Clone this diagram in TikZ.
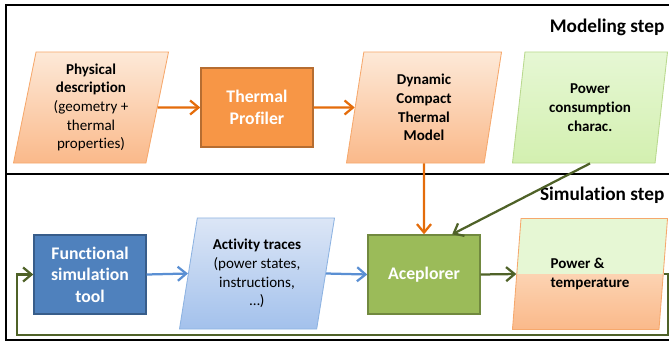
\documentclass[tikz,border=0pt]{standalone}
\usepackage{fontspec}
\setmainfont{Carlito}[Ligatures=NoCommon]
\usetikzlibrary{arrows.meta, shapes.geometric}

\definecolor{orlight}{HTML}{FDE9D8}
\definecolor{orhalf}{HTML}{FCD3B2}
\definecolor{ormid}{HTML}{FAB98A}
\definecolor{orline}{HTML}{F6A86C}
\definecolor{orbox}{HTML}{F79646}
\definecolor{orboxline}{HTML}{B66D31}
\definecolor{orarrow}{HTML}{E46C0A}
\definecolor{blbox}{HTML}{4F81BD}
\definecolor{blboxline}{HTML}{385D8A}
\definecolor{bllight}{HTML}{DCE6F6}
\definecolor{blmid}{HTML}{A3C1EC}
\definecolor{blline}{HTML}{8DB3E2}
\definecolor{blarrow}{HTML}{5A8FD3}
\definecolor{grbox}{HTML}{9BBB59}
\definecolor{grboxline}{HTML}{71893F}
\definecolor{grlight}{HTML}{E6F7D4}
\definecolor{grmid}{HTML}{D3F0B0}
\definecolor{grline}{HTML}{B9D98E}
\definecolor{grarrow}{HTML}{4F6228}

\begin{document}
\begin{tikzpicture}[
    x=0.025cm, y=-0.025cm,
    every node/.style={font=\fontsize{10.7}{13.3}\selectfont, align=center, inner sep=1pt},
    box/.style={rectangle, draw, line width=1pt, minimum width=2.8cm, minimum height=1.975cm,
        text=white, font=\fontsize{12.6}{15.4}\selectfont\bfseries},
    data/.style={trapezium, trapezium left angle=76, trapezium right angle=104,
        trapezium stretches body, draw, line width=0.6pt,
        minimum width=3.875cm, minimum height=2.775cm},
    title/.style={anchor=east, font=\fontsize{13.7}{16}\selectfont\bfseries},
    flow/.style={draw, line width=1.6pt, -{Straight Barb[length=6pt, width=10pt]}}
]
\useasboundingbox (0,0) rectangle (669,343);
\clip (0,0) rectangle (669,343);

% Rahmen
\draw[line width=1.8pt] (680,5) -- (6,5) -- (6,340) -- (680,340) (6,174) -- (680,174);
\node[title] (modtitle) at (666,27) {Modeling step};
\node[title] (simtitle) at (666,195) {Simulation step};

% Modellierung
\node[data, top color=orlight, bottom color=ormid, draw=orline] (phys) at (91,107.5)
    {\textbf{Physical}\\\textbf{description}\\(geometry +\\thermal\\properties)};
\node[box, fill=orbox, draw=orboxline] (prof) at (257,107.5) {Thermal\\Profiler};
\node[data, top color=orlight, bottom color=ormid, draw=orline] (dctm) at (424,107.5)
    {\textbf{Dynamic}\\\textbf{Compact}\\\textbf{Thermal}\\\textbf{Model}};
\node[data, top color=grlight, bottom color=grmid, draw=grline] (pcons) at (590,107.5)
    {\textbf{Power}\\\textbf{consumption}\\\textbf{charac.}};

% Simulation
\node[box, fill=blbox, draw=blboxline] (func) at (90,274.5) {Functional\\simulation\\tool};
\node[data, top color=bllight, bottom color=blmid, draw=blline] (trace) at (257,273.5)
    {\textbf{Activity traces}\\(power states,\\instructions,\\\ldots)};
\node[box, fill=grbox, draw=grboxline] (acep) at (424,274.5) {Aceplorer};
\node[data, draw=orline, align=left, path picture={
        \fill[grlight] (path picture bounding box.north west) rectangle (path picture bounding box.east);
        \shade[top color=orhalf, bottom color=ormid] (path picture bounding box.west)
            rectangle (path picture bounding box.south east);
    }] (ptemp) at (590,274) {\textbf{Power \&}\\\textbf{temperature}};

\coordinate (loopR) at (668,335);
\coordinate (loopL) at (17,335);

\draw[flow, orarrow] (phys.east) -- (prof.west);
\draw[flow, orarrow] (prof.east) -- (dctm.west);
\draw[flow, orarrow] (dctm.south) -- (acep.north);
\draw[flow, grarrow] (pcons.south) -- (acep.55);
\draw[flow, blarrow] (func.east) -- (trace.west);
\draw[flow, blarrow] (trace.east) -- (acep.west);
\draw[flow, grarrow] (acep.east) -- (ptemp.west);
\draw[flow, grarrow] (ptemp.east) -| (loopR) -- (loopL) |- (func.west);

\end{tikzpicture}
\end{document}
